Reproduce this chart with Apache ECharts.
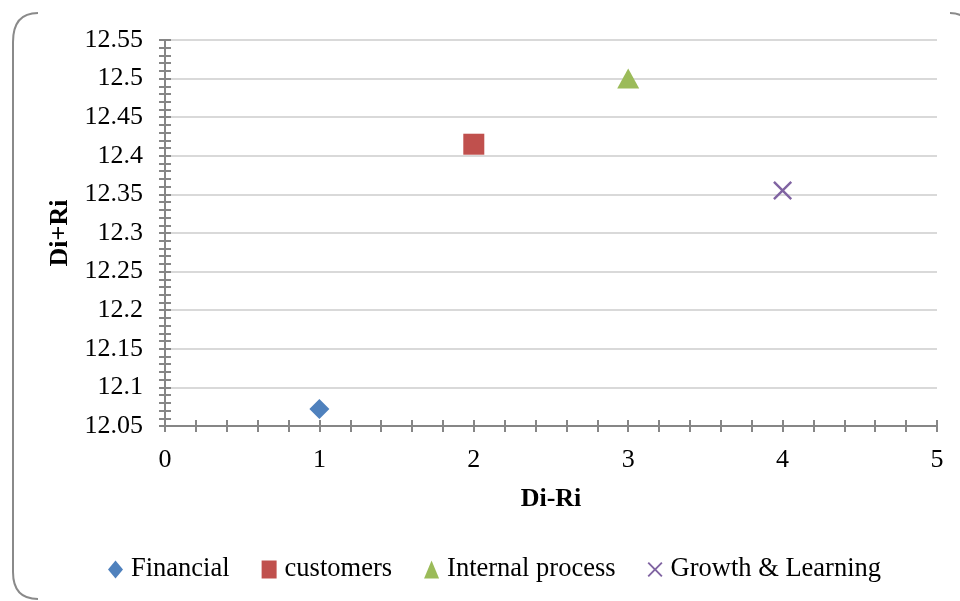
<!DOCTYPE html>
<html>
<head>
<meta charset="utf-8">
<script src="https://cdn.jsdelivr.net/npm/echarts@6/dist/echarts.min.js"></script>
<style>html,body{margin:0;padding:0;background:#fff}#c{width:960px;height:601px}</style>
</head>
<body>
<div id="c"></div>
<script>
const seriesNames = ['Financial', 'customers', 'Internal process', 'Growth & Learning'];
const xValues = [1, 2, 3, 4];
const yValues = [12.072, 12.415, 12.5, 12.355];
const seriesColors = ['#4F81BD', '#C0504D', '#9BBB59', '#8064A2'];
const xName = 'Di-Ri';
const yName = 'Di+Ri';

const xPath = 'path://M0,1.8L1.8,0L10,8.2L18.2,0L20,1.8L11.8,10L20,18.2L18.2,20L10,11.8L1.8,20L0,18.2L8.2,10Z';
const symbols = ['diamond', 'rect', 'triangle', xPath];
const symbolSizes = [[20, 20], [21, 21], [22, 20], [19, 19]];

const font = '"Liberation Serif", "Times New Roman", serif';

const chart = echarts.init(document.getElementById('c'), null, {renderer: 'canvas'});

const series = seriesNames.map((n, i) => ({
  name: n,
  type: 'scatter',
  data: [[xValues[i], yValues[i]]],
  symbol: symbols[i],
  symbolSize: symbolSizes[i],
  itemStyle: {color: seriesColors[i], opacity: 1},
  xAxisIndex: 0,
  yAxisIndex: 0
}));

const axisLineStyle = {color: '#868686', width: 2};
const border = {fill: 'none', stroke: '#8a8a8a', lineWidth: 2};

chart.setOption({
  animation: false,
  backgroundColor: '#fff',
  textStyle: {fontFamily: font},
  grid: {left: 165, right: 23, top: 40, bottom: 175, containLabel: false},
  xAxis: [{
    type: 'value', min: 0, max: 5, interval: 1,
    name: xName, nameLocation: 'middle', nameGap: 60,
    nameTextStyle: {fontFamily: font, fontSize: 26, fontWeight: 'bold', color: '#000'},
    axisLine: {show: true, onZero: false, lineStyle: axisLineStyle},
    axisTick: {show: true, inside: false, length: 6, lineStyle: axisLineStyle},
    minorTick: {show: true, splitNumber: 5, length: 6, lineStyle: {color: '#868686', width: 2}},
    axisLabel: {fontFamily: font, fontSize: 26, color: '#000', margin: 21},
    splitLine: {show: false}
  }, {
    type: 'value', min: 0, max: 5, interval: 1, position: 'bottom', offset: 0,
    axisLine: {show: false},
    axisTick: {show: true, inside: true, length: 6, lineStyle: axisLineStyle},
    minorTick: {show: true, splitNumber: 5, length: 6, lineStyle: {color: '#868686', width: 2}},
    axisLabel: {show: false},
    splitLine: {show: false}
  }],
  yAxis: [{
    type: 'value', min: 12.05, max: 12.55, interval: 0.05,
    name: yName, nameLocation: 'middle', nameGap: 81, nameRotate: 90,
    nameTextStyle: {fontFamily: font, fontSize: 26, fontWeight: 'bold', color: '#000'},
    axisLine: {show: true, onZero: false, lineStyle: axisLineStyle},
    axisTick: {show: true, inside: false, length: 6, lineStyle: axisLineStyle},
    minorTick: {show: true, splitNumber: 5, length: 6, lineStyle: {color: '#868686', width: 2}},
    axisLabel: {fontFamily: font, fontSize: 26, color: '#000', margin: 22,
      formatter: v => String(Math.round(v * 100) / 100)},
    splitLine: {show: true, lineStyle: {color: '#d9d9d9', width: 2}}
  }, {
    type: 'value', min: 12.05, max: 12.55, interval: 0.05, position: 'left', offset: 0,
    axisLine: {show: false},
    axisTick: {show: true, inside: true, length: 6, lineStyle: axisLineStyle},
    minorTick: {show: true, splitNumber: 5, length: 6, lineStyle: {color: '#868686', width: 2}},
    axisLabel: {show: false},
    splitLine: {show: false}
  }],
  legend: {
    left: 103, top: 551,
    itemGap: 32, itemWidth: 15, itemHeight: 18,
    textStyle: {fontFamily: font, fontSize: 26.5, color: '#000', padding: [0, 0, 0, 3]},
    data: seriesNames.map((n, i) => ({name: n, icon: symbols[i], itemStyle: {opacity: 1}}))
  },
  graphic: [
    {type: 'bezierCurve', shape: {x1: 38, y1: 13, cpx1: 13, cpy1: 13, x2: 13, y2: 42}, style: border},
    {type: 'line', shape: {x1: 13, y1: 42, x2: 13, y2: 572}, style: border},
    {type: 'bezierCurve', shape: {x1: 13, y1: 572, cpx1: 13, cpy1: 599, x2: 38, y2: 599}, style: border},
    {type: 'bezierCurve', shape: {x1: 950, y1: 13, cpx1: 957, cpy1: 13, x2: 962, y2: 16}, style: border}
  ],
  series: series
});
</script>
</body>
</html>
